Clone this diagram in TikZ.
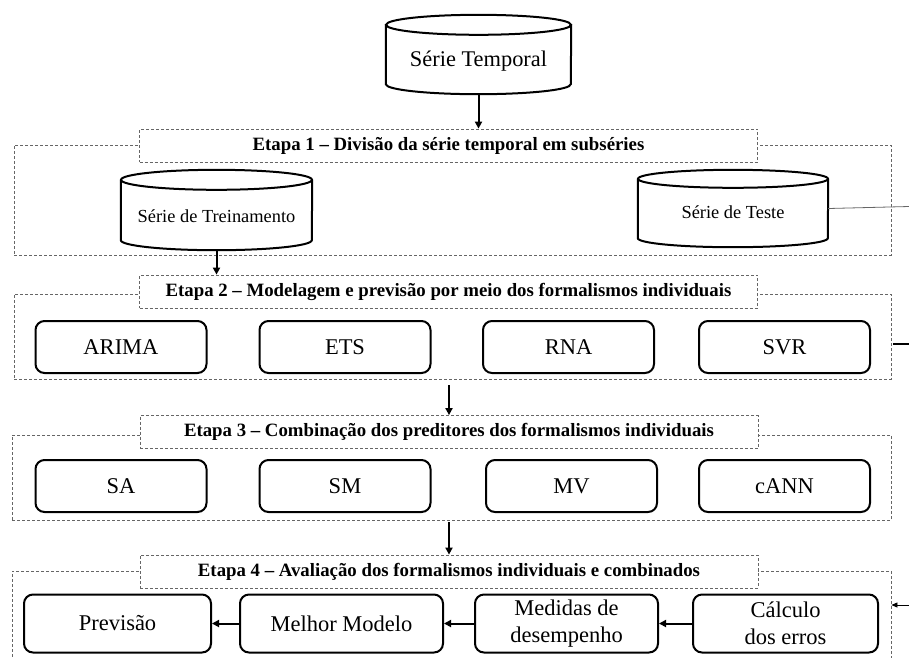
\documentclass[tikz,border=0pt]{standalone}
\usepackage{fontspec}
\setmainfont{Liberation Serif}
\usetikzlibrary{arrows.meta,calc}

% draws a drum (database cylinder) around a borderless node
\newcommand\drawdrum[3]{%
  \draw[line width=2pt] (#1.north west) -- (#1.south west)
     arc[start angle=180,end angle=360,x radius=#2,y radius=#3] -- (#1.north east);
  \draw[line width=2pt] (#1.north) ellipse[x radius=#2,y radius=#3];}

\tikzset{
  stagebox/.style={draw=black!60, line width=0.8pt, dash pattern=on 3pt off 2pt, inner sep=0pt},
  stagetitle/.style={stagebox, fill=white, font=\fontsize{18.8}{22}\selectfont\bfseries,
    minimum width=618pt, minimum height=33pt},
  modelbox/.style={draw, line width=2pt, rounded corners=9pt, minimum width=171pt,
    minimum height=52pt, font=\fontsize{22.5}{27}\selectfont, inner sep=0pt, align=center},
  evalbox/.style={modelbox, minimum height=58pt},
  drumbody/.style={draw=none, inner sep=0pt},
  drumlabel/.style={inner sep=0pt, font=\fontsize{18.4}{22}\selectfont},
  arr/.style={line width=2pt, -{Triangle[length=7pt,width=7pt]}},
  thinarr/.style={line width=0.8pt, -{Triangle[length=6pt,width=5pt]}},
}

\begin{document}
\begin{tikzpicture}[x=1pt,y=-1pt]
\clip (0,0) rectangle (909,657);
\useasboundingbox (0,0) rectangle (909,657);

% time series drum
\node[drumbody, minimum width=185pt, minimum height=59pt] (st) at (478.5,54.5) {};
\drawdrum{st}{92.5pt}{10pt}
\node[drumlabel, font=\fontsize{22.4}{26}\selectfont] (stl) at (478.5,61) {Série Temporal};

% stage frames
\node[stagebox, minimum width=877pt, minimum height=110pt] (e1) at (452.5,200) {};
\node[stagebox, minimum width=877pt, minimum height=85pt] (e2) at (452.5,336.5) {};
\node[stagebox, minimum width=879pt, minimum height=85pt] (e3) at (451.5,477.5) {};
\node[stagebox, minimum width=879pt, minimum height=109pt] (e4) at (451.5,625.5) {};

% stage titles
\node[stagetitle] (t1) at (448.5,145.5) {Etapa 1 – Divisão da série temporal em subséries};
\node[stagetitle] (t2) at (448.5,291.5) {Etapa 2 – Modelagem e previsão por meio dos formalismos individuais};
\node[stagetitle] (t3) at (449,432) {Etapa 3 – Combinação dos preditores dos formalismos individuais};
\node[stagetitle] (t4) at (449,571.5) {Etapa 4 – Avaliação dos formalismos individuais e combinados};

% stage 1: training and test drums
\node[drumbody, minimum width=191pt, minimum height=60pt] (tr) at (216.5,210) {};
\drawdrum{tr}{95.5pt}{10pt}
\node[drumlabel] (trl) at (216.5,216) {Série de Treinamento};
\node[drumbody, minimum width=190pt, minimum height=59pt] (te) at (733,208.5) {};
\drawdrum{te}{95pt}{9pt}
\node[drumlabel] (tel) at (733,212) {Série de Teste};

% stage 2: individual models
\node[modelbox] (arima) at (121,347) {ARIMA};
\node[modelbox] (ets) at (345,347) {ETS};
\node[modelbox] (rna) at (568.5,347) {RNA};
\node[modelbox] (svr) at (784.5,347) {SVR};

% stage 3: combinations
\node[modelbox] (sa) at (121,486) {SA};
\node[modelbox] (sm) at (345,486) {SM};
\node[modelbox] (mv) at (571.5,486) {MV};
\node[modelbox] (cann) at (784.5,486) {cANN};

% stage 4: evaluation chain
\node[evalbox, minimum width=187pt] (prev) at (117.5,623.5) {Previsão};
\node[evalbox, minimum width=203pt] (best) at (341.5,623.5) {Melhor Modelo};
\node[evalbox, minimum width=183pt] (med) at (566.5,623.5) {Medidas de\\desempenho};
\node[evalbox, minimum width=185pt] (calc) at (785.5,623.5) {Cálculo\\dos erros};

% flow between stages
\draw[arr] ([yshift=-9pt]st.south) -- (st.south |- t1.north);
\draw[arr] ([yshift=-10pt]tr.south) -- (tr.south |- t2.north);
\draw[arr] (t3.north |- e2.south) ++(0,6) -- (t3.north);
\draw[arr] (t4.north |- e3.south) ++(0,2) -- (t4.north);
\draw[arr] (calc) -- (med);
\draw[arr] (med) -- (best);
\draw[arr] (best) -- (prev);

% links leaving to the right
\coordinate (outte) at (909,206.5);
\coordinate (out2) at (909,344);
\coordinate (in4) at (909,605);
\draw[black!60, line width=0.8pt] (te.east) -- (outte);
\draw[line width=2pt] ([xshift=2pt]out2 -| e2.east) -- (out2);
\draw[thinarr] (in4) -- (in4 -| e4.east);
\end{tikzpicture}
\end{document}
